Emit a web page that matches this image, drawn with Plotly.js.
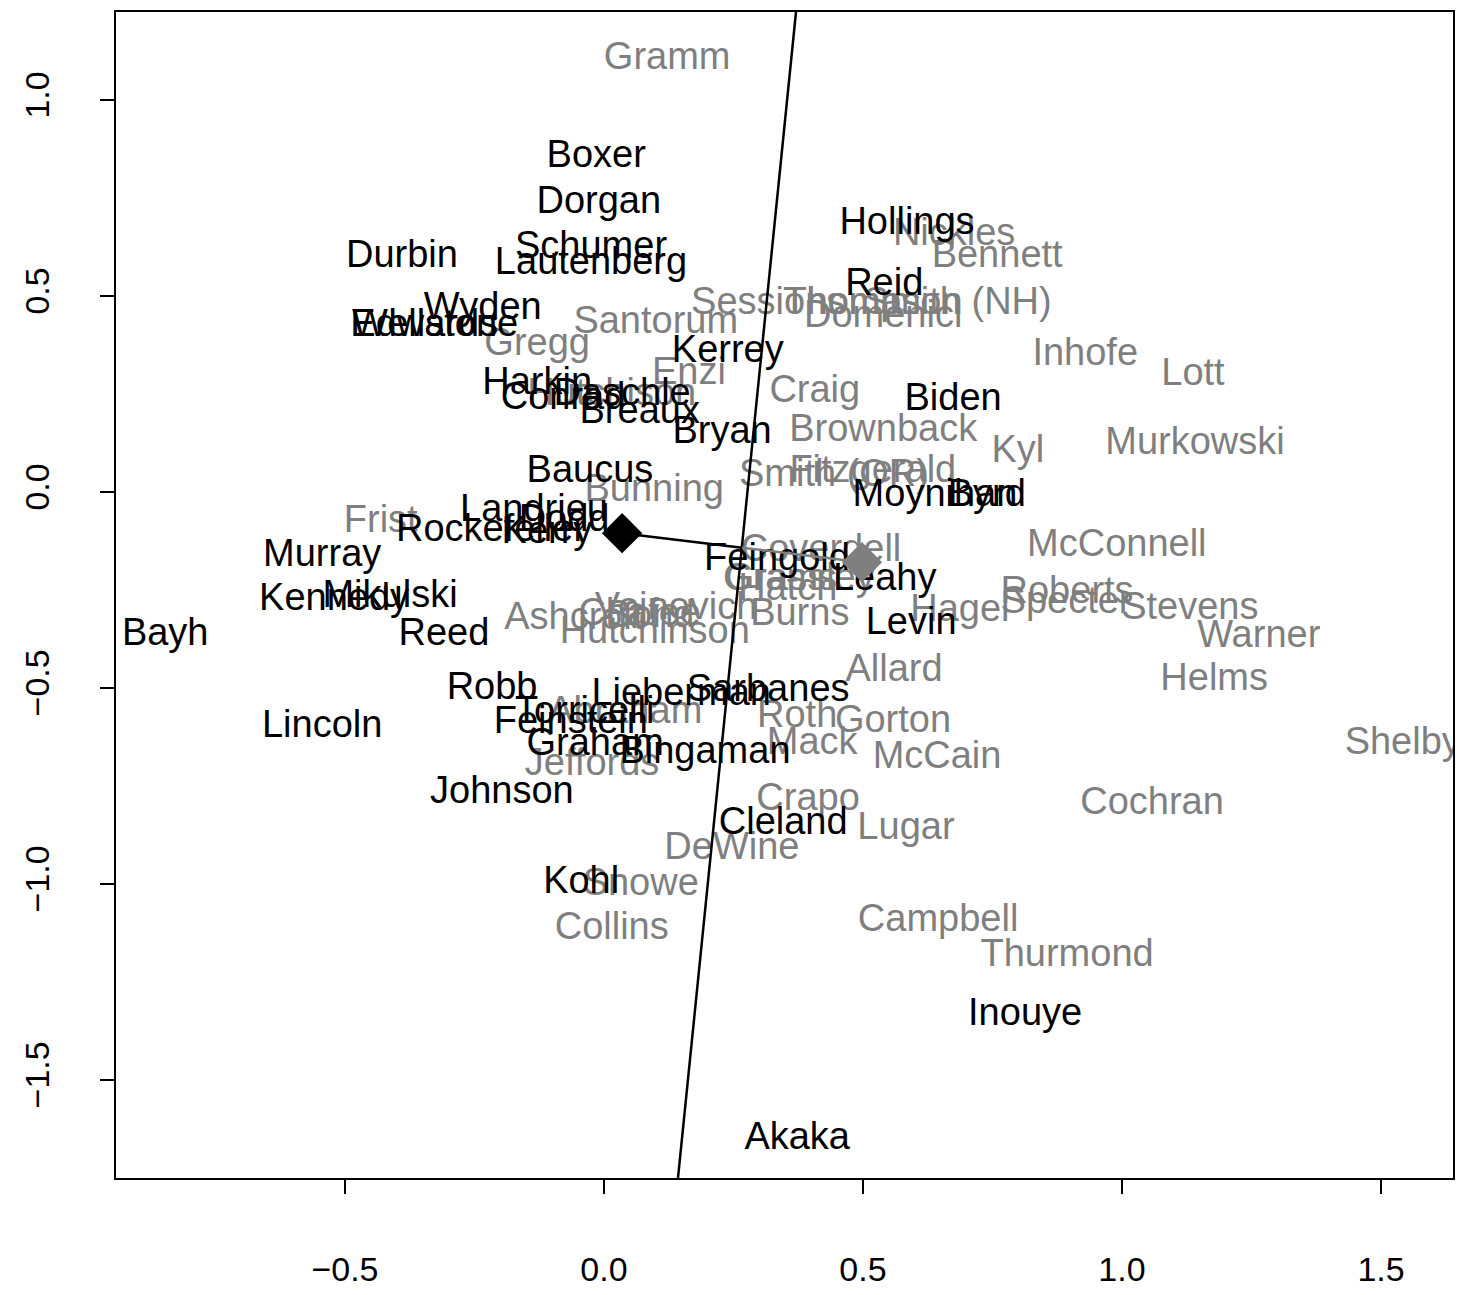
<!DOCTYPE html>
<html>
<head>
<meta charset="utf-8">
<script src="https://cdn.plot.ly/plotly-3.0.1.min.js"></script>
<style>html,body{margin:0;padding:0;background:#fff;}#chart{width:1461px;height:1295px;}</style>
</head>
<body>
<div id="chart"></div>
<script>
// Democrats (black labels)
const demNames = ["Boxer","Dorgan","Schumer","Lautenberg","Durbin","Wyden","Edwards","Wellstone","Kerrey","Harkin","Conrad","Daschle","Breaux","Bryan","Baucus","Landrieu","Dodd","Rockefeller","Kerry","Murray","Kennedy","Mikulski","Reed","Bayh","Feingold","Leahy","Levin","Moynihan","Byrd","Biden","Hollings","Reid","Robb","Lieberman","Sarbanes","Torricelli","Feinstein","Graham","Bingaman","Lincoln","Johnson","Kohl","Cleland","Inouye","Akaka"];
const demX = [-0.015,-0.010,-0.025,-0.025,-0.390,-0.234,-0.347,-0.326,0.239,-0.129,-0.079,0.035,0.069,0.228,-0.027,-0.135,-0.077,-0.218,-0.110,-0.544,-0.521,-0.413,-0.309,-0.847,0.334,0.542,0.593,0.639,0.739,0.674,0.585,0.541,-0.216,0.149,0.317,-0.037,-0.064,-0.017,0.195,-0.544,-0.197,-0.044,0.346,0.813,0.373];
const demY = [0.854,0.737,0.622,0.581,0.597,0.466,0.421,0.421,0.357,0.273,0.237,0.245,0.201,0.150,0.051,-0.049,-0.074,-0.102,-0.105,-0.164,-0.278,-0.268,-0.365,-0.365,-0.174,-0.225,-0.337,-0.011,-0.011,0.234,0.683,0.528,-0.505,-0.518,-0.508,-0.564,-0.590,-0.646,-0.666,-0.600,-0.768,-0.998,-0.847,-1.335,-1.653];

// Republicans (grey labels)
const repNames = ["Gramm","Nickles","Bennett","Sessions","Thomas","Thompson","Smith (NH)","Domenici","Santorum","Gregg","Enzi","Craig","Brownback","Kyl","Murkowski","Inhofe","Lott","Smith (OR)","Fitzgerald","Bunning","Frist","Coverdell","Grassley","Hatch","Grams","Burns","Hagel","Roberts","Specter","Stevens","McConnell","Warner","Helms","Shelby","Allard","Roth","Gorton","Mack","McCain","Crapo","Lugar","DeWine","Cochran","Snowe","Collins","Campbell","Thurmond","Jeffords","Abraham","Ashcroft","Voinovich","Hutchinson","Bond","Hutchison","Chafee"];
const repX = [0.122,0.676,0.759,0.317,0.479,0.519,0.683,0.539,0.100,-0.129,0.164,0.407,0.539,0.799,1.141,0.929,1.137,0.444,0.519,0.097,-0.431,0.419,0.378,0.355,0.340,0.378,0.687,0.894,0.892,1.131,0.990,1.264,1.178,1.542,0.560,0.373,0.558,0.402,0.643,0.394,0.583,0.247,1.058,0.071,0.015,0.645,0.894,-0.023,0.041,-0.058,0.139,0.098,0.089,0.015,0.069];
const repY = [1.104,0.655,0.597,0.479,0.479,0.479,0.479,0.444,0.431,0.375,0.301,0.255,0.155,0.102,0.120,0.349,0.298,0.040,0.051,0.002,-0.079,-0.151,-0.225,-0.250,-0.227,-0.314,-0.304,-0.258,-0.284,-0.299,-0.138,-0.370,-0.482,-0.643,-0.457,-0.574,-0.587,-0.643,-0.679,-0.786,-0.860,-0.911,-0.796,-1.005,-1.115,-1.095,-1.184,-0.697,-0.564,-0.324,-0.299,-0.360,-0.319,0.245,-0.314];

// Party centroids (diamonds) and cutting line
const demCentroid = [0.035, -0.105];
const repCentroid = [0.498, -0.179];
const cutX = [0.3707, 0.1429];
const cutY = [1.2245, -1.75];

// Axis ticks
const xTicks = [-0.5, 0.0, 0.5, 1.0, 1.5];
const xTickText = ["\u22120.5","0.0","0.5","1.0","1.5"];
const yTicks = [-1.5, -1.0, -0.5, 0.0, 0.5, 1.0];
const yTickText = ["\u22121.5","\u22121.0","\u22120.5","0.0","0.5","1.0"];

const GREY = "#7f7f7f";
const FONT = "Liberation Sans, Arial, Helvetica, sans-serif";
const midX = (demCentroid[0] + repCentroid[0]) / 2;
const midY = (demCentroid[1] + repCentroid[1]) / 2;

const traces = [
  {type:"scatter", mode:"text", x:repX, y:repY, text:repNames, textposition:"middle center",
   textfont:{family:FONT, size:38, color:GREY}, hoverinfo:"text", cliponaxis:true},
  {type:"scatter", mode:"text", x:demX, y:demY, text:demNames, textposition:"middle center",
   textfont:{family:FONT, size:38, color:"#000"}, hoverinfo:"text", cliponaxis:true},
  {type:"scatter", mode:"lines", x:cutX, y:cutY, line:{color:"#000", width:2.5}, hoverinfo:"skip"},
  {type:"scatter", mode:"lines", x:[demCentroid[0], midX], y:[demCentroid[1], midY], line:{color:"#000", width:2.5}, hoverinfo:"skip"},
  {type:"scatter", mode:"lines", x:[midX, repCentroid[0]], y:[midY, repCentroid[1]], line:{color:GREY, width:2.5}, hoverinfo:"skip"},
  {type:"scatter", mode:"markers", x:[demCentroid[0]], y:[demCentroid[1]], marker:{symbol:"diamond", size:31, color:"#000"}},
  {type:"scatter", mode:"markers", x:[repCentroid[0]], y:[repCentroid[1]], marker:{symbol:"diamond", size:31, color:GREY}}
];

const layout = {
  width:1461, height:1295,
  margin:{l:116, r:8, t:12, b:117, pad:0},
  paper_bgcolor:"#fff", plot_bgcolor:"#fff",
  showlegend:false,
  font:{family:FONT, color:"#000"},
  xaxis:{range:[-0.942, 1.639], tickvals:xTicks, ticktext:xTickText, showgrid:false, zeroline:false,
         showline:true, mirror:true, linecolor:"#000", linewidth:2, ticks:"outside", ticklen:14, tickwidth:2,
         tickcolor:"#000", tickfont:{size:34, family:FONT}, ticklabelstandoff:46},
  yaxis:{range:[-1.75, 1.2245], tickvals:yTicks, ticktext:yTickText, showgrid:false, zeroline:false,
         showline:true, mirror:true, linecolor:"#000", linewidth:2, ticks:"outside", ticklen:14, tickwidth:2,
         tickcolor:"#000", tickfont:{size:34, family:FONT}, tickangle:-90, ticklabelstandoff:37}
};

Plotly.newPlot("chart", traces, layout, {displayModeBar:false, staticPlot:true});
</script>
</body>
</html>
